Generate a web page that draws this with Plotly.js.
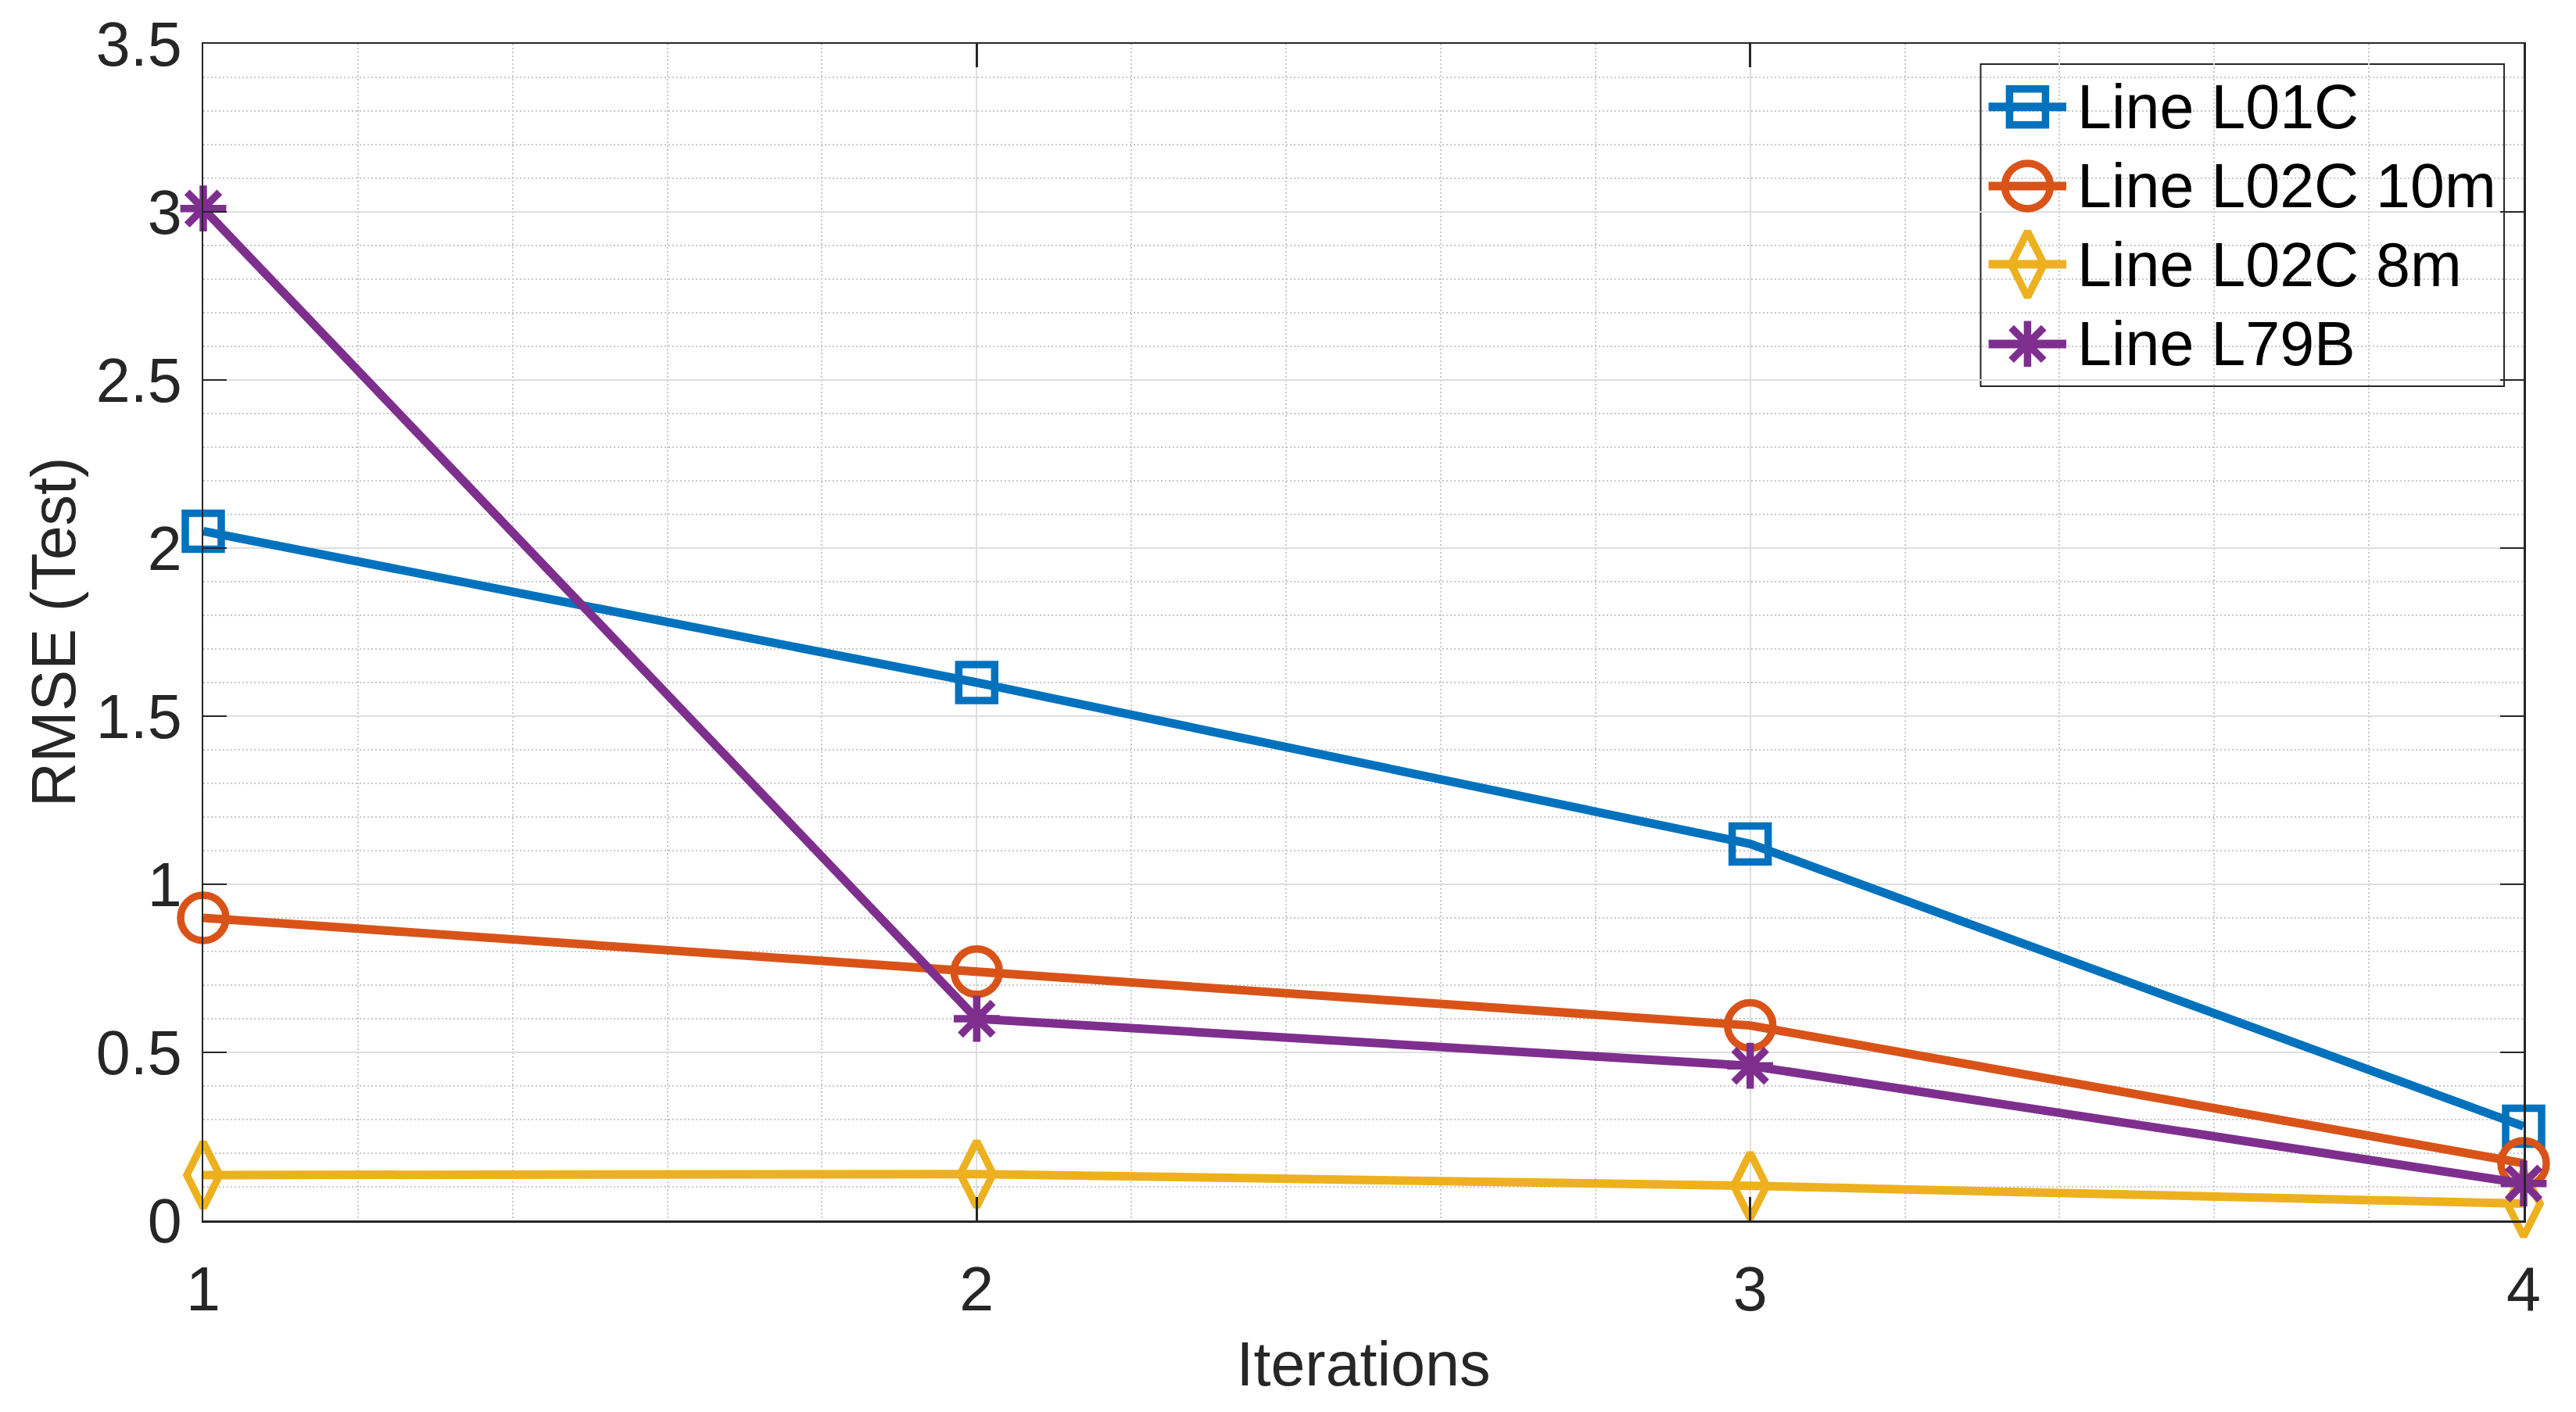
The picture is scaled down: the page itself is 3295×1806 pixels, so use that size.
<!DOCTYPE html>
<html>
<head>
<meta charset="utf-8">
<script src="https://cdn.plot.ly/plotly-3.0.1.min.js"></script>
<style>
  html, body { margin: 0; padding: 0; background: #ffffff; }
  #chart { width: 3295px; height: 1806px; }
</style>
</head>
<body>
<div id="chart"></div>
<script>
// ---- data ----
const iterations = [1, 2, 3, 4];
const rmseL01C    = [2.05, 1.60, 1.12, 0.28];
const rmseL02C10m = [0.90, 0.74, 0.58, 0.17];
const rmseL02C8m  = [0.135, 0.138, 0.103, 0.05];
const rmseL79B    = [3.01, 0.60, 0.46, 0.11];
const seriesNames = ['Line L01C', 'Line L02C 10m', 'Line L02C 8m', 'Line L79B'];
const xTickVals = [1, 2, 3, 4];
const xTickText = ['1', '2', '3', '4'];
const yTickVals = [0, 0.5, 1, 1.5, 2, 2.5, 3, 3.5];
const yTickText = ['0', '0.5', '1', '1.5', '2', '2.5', '3', '3.5'];
const xTitle = 'Iterations';
const yTitle = 'RMSE (Test)';

// ---- styles ----
const colors  = ['#0072BD', '#D95319', '#EDB120', '#7E2F8E'];
const symbols = ['square-open', 'circle-open', 'diamond-tall-open', 'asterisk-open'];
const sizes   = [46, 58, 60, 49];
const seriesY = [rmseL01C, rmseL02C10m, rmseL02C8m, rmseL79B];
const FONT = '"Liberation Sans", Arial, Helvetica, sans-serif';
const INK = '#262626';
const LW = 11, MLW = 9.5;

const traces = [];
seriesY.forEach((ys, i) => {
  traces.push({
    x: iterations, y: ys, name: seriesNames[i],
    type: 'scatter', mode: 'lines+markers', cliponaxis: false,
    line: { color: colors[i], width: LW },
    marker: { symbol: symbols[i], size: sizes[i], color: colors[i],
              line: { color: colors[i], width: MLW } },
    showlegend: false, hoverinfo: 'skip'
  });
});

// ---- custom legend (overlay axes in 0..1 plot-fraction units) ----
const legX0 = 0.7660, legX1 = 0.9916, legY0 = 0.7090, legY1 = 0.9827;
const symL = 0.7694, symR = 0.8029, symC = 0.7862, textX = 0.8069;
const rowY = [0.9464, 0.8791, 0.8126, 0.7449];
const annotations = [];
seriesNames.forEach((nm, i) => {
  traces.push({
    x: [symL, symR], y: [rowY[i], rowY[i]], xaxis: 'x2', yaxis: 'y2',
    type: 'scatter', mode: 'lines', line: { color: colors[i], width: LW },
    showlegend: false, hoverinfo: 'skip'
  });
  traces.push({
    x: [symC], y: [rowY[i]], xaxis: 'x2', yaxis: 'y2',
    type: 'scatter', mode: 'markers', cliponaxis: false,
    marker: { symbol: symbols[i], size: sizes[i], color: colors[i],
              line: { color: colors[i], width: MLW } },
    showlegend: false, hoverinfo: 'skip'
  });
  annotations.push({
    xref: 'paper', yref: 'paper', x: textX, y: rowY[i],
    xanchor: 'left', yanchor: 'middle', showarrow: false,
    text: nm, font: { family: FONT, size: 79, color: '#000000' }
  });
});

const layout = {
  width: 3295, height: 1806,
  paper_bgcolor: '#ffffff', plot_bgcolor: '#ffffff',
  margin: { l: 260, r: 67, t: 56, b: 245, pad: 0 },
  font: { family: FONT, size: 79, color: INK },
  xaxis: {
    range: [1, 4], tickmode: 'array', tickvals: xTickVals, ticktext: xTickText,
    ticks: 'inside', ticklen: 30, tickwidth: 2.5, tickcolor: INK,
    showline: true, linecolor: INK, linewidth: 2.5, mirror: 'ticks',
    showgrid: true, gridcolor: '#dedede', gridwidth: 2,
    zeroline: false, ticklabelstandoff: 18,
    tickfont: { family: FONT, size: 79, color: INK },
    minor: { tickmode: 'linear', tick0: 1, dtick: 0.2, ticks: '', showgrid: true,
             gridcolor: '#c8c8c8', gridwidth: 2, griddash: '2px,3px' },
    title: { text: xTitle, standoff: 25, font: { family: FONT, size: 79, color: INK } }
  },
  yaxis: {
    range: [0, 3.5], tickmode: 'array', tickvals: yTickVals, ticktext: yTickText,
    ticks: 'inside', ticklen: 30, tickwidth: 2.5, tickcolor: INK,
    showline: true, linecolor: INK, linewidth: 2.5, mirror: 'ticks',
    showgrid: true, gridcolor: '#dedede', gridwidth: 2,
    zeroline: false, ticklabelstandoff: 9,
    tickfont: { family: FONT, size: 79, color: INK },
    minor: { tickmode: 'linear', tick0: 0, dtick: 0.1, ticks: '', showgrid: true,
             gridcolor: '#c8c8c8', gridwidth: 2, griddash: '2px,3px' },
    title: { text: yTitle, standoff: 0, font: { family: FONT, size: 79, color: INK } }
  },
  xaxis2: { overlaying: 'x', range: [0, 1], visible: false, fixedrange: true },
  yaxis2: { overlaying: 'y', range: [0, 1], visible: false, fixedrange: true },
  shapes: [{
    type: 'rect', xref: 'paper', yref: 'paper', layer: 'between',
    x0: legX0, x1: legX1, y0: legY0, y1: legY1,
    fillcolor: '#ffffff', line: { color: INK, width: 2 }
  }],
  annotations: annotations,
  showlegend: false
};

Plotly.newPlot('chart', traces, layout, { staticPlot: true, displayModeBar: false });
</script>
</body>
</html>
